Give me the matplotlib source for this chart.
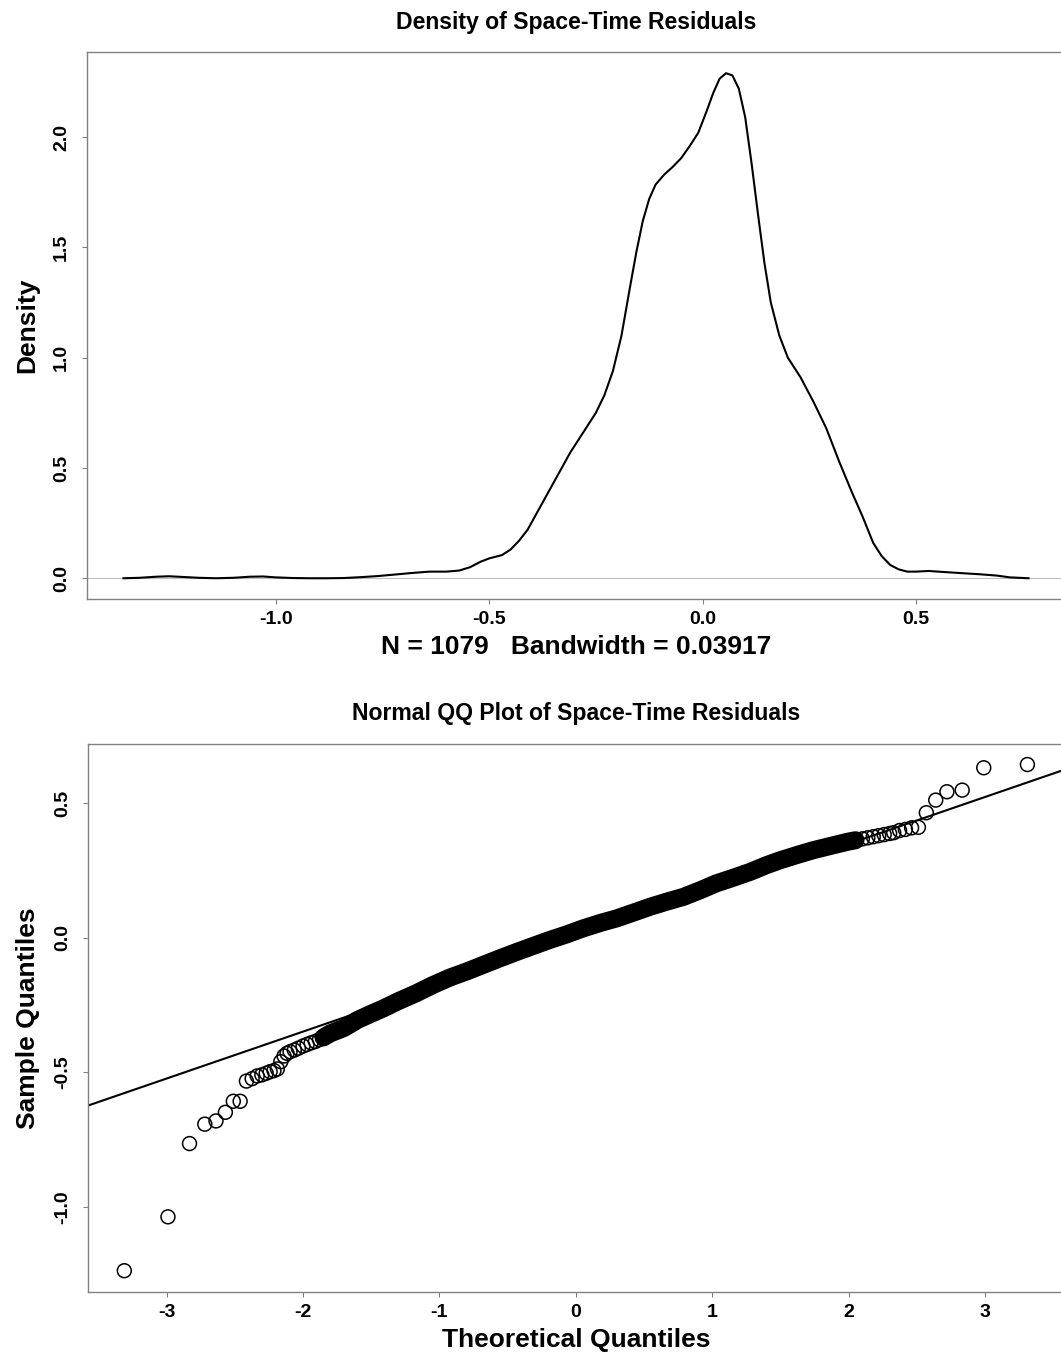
import matplotlib
matplotlib.use('Agg')
import matplotlib.pyplot as plt

plt.rcParams['font.family'] = ['Liberation Sans', 'DejaVu Sans']
plt.rcParams['font.weight'] = 'bold'
plt.rcParams['axes.unicode_minus'] = False

# density of residuals
dens_x = [-1.357, -1.32, -1.28, -1.25, -1.22, -1.18, -1.14, -1.10, -1.06, -1.03, -1.00, -0.96,
          -0.92, -0.88, -0.84, -0.80, -0.76, -0.72, -0.68, -0.64, -0.60, -0.57, -0.545, -0.52,
          -0.50, -0.47, -0.45, -0.43, -0.41, -0.39, -0.37, -0.35, -0.33, -0.31, -0.29, -0.27,
          -0.25, -0.23, -0.21, -0.19, -0.17, -0.155, -0.14, -0.125, -0.11, -0.09, -0.07, -0.05,
          -0.03, -0.01, 0.01, 0.025, 0.04, 0.055, 0.07, 0.085, 0.10, 0.115, 0.13, 0.145, 0.16,
          0.18, 0.20, 0.23, 0.26, 0.29, 0.32, 0.35, 0.375, 0.40, 0.42, 0.44, 0.46, 0.48, 0.50,
          0.53, 0.56, 0.60, 0.65, 0.69, 0.72, 0.764]
dens_y = [0.000, 0.002, 0.007, 0.009, 0.006, 0.002, 0.000, 0.002, 0.007, 0.008, 0.004, 0.001,
          0.000, 0.000, 0.001, 0.005, 0.010, 0.017, 0.024, 0.030, 0.030, 0.035, 0.050, 0.075,
          0.090, 0.105, 0.130, 0.170, 0.22, 0.29, 0.36, 0.43, 0.50, 0.57, 0.63, 0.69,
          0.75, 0.83, 0.94, 1.10, 1.32, 1.48, 1.62, 1.72, 1.785, 1.83, 1.865, 1.905,
          1.96, 2.02, 2.12, 2.20, 2.265, 2.29, 2.28, 2.22, 2.09, 1.88, 1.65, 1.43, 1.25,
          1.10, 1.00, 0.91, 0.80, 0.68, 0.53, 0.39, 0.28, 0.16, 0.10, 0.06, 0.04, 0.030, 0.030,
          0.033, 0.029, 0.024, 0.018, 0.012, 0.004, 0.000]
n_obs = 1079
bandwidth = 0.03917

# normal QQ: lower tail points
low_q = [-3.31, -2.99, -2.832, -2.72, -2.638, -2.569, -2.511, -2.461, -2.415, -2.373, -2.336,
         -2.302, -2.270, -2.241, -2.213, -2.188, -2.163, -2.139, -2.117, -2.095, -2.064, -2.034]
low_s = [-1.236, -1.036, -0.764, -0.692, -0.680, -0.648, -0.607, -0.607, -0.532, -0.523, -0.513,
         -0.509, -0.503, -0.497, -0.493, -0.487, -0.460, -0.439, -0.429, -0.423, -0.417, -0.410]
# body of the QQ cloud
body_q = [-2.00, -1.97, -1.94, -1.91, -1.88, -1.85, -1.80, -1.75, -1.70, -1.65, -1.60, -1.50,
          -1.41, -1.30, -1.17, -1.05, -0.92, -0.80, -0.68, -0.55, -0.43, -0.30, -0.19, -0.07,
          0.055, 0.18, 0.30, 0.42, 0.544, 0.66, 0.79, 0.91, 1.03, 1.15, 1.28, 1.40, 1.50, 1.62,
          1.74, 1.86, 1.99, 2.05, 2.10, 2.14, 2.18, 2.22, 2.26, 2.30, 2.33]
body_s = [-0.402, -0.396, -0.390, -0.385, -0.378, -0.370, -0.355, -0.345, -0.335, -0.320, -0.305,
          -0.282, -0.262, -0.235, -0.206, -0.176, -0.147, -0.125, -0.101, -0.075, -0.052, -0.028,
          -0.008, 0.012, 0.035, 0.055, 0.072, 0.093, 0.115, 0.133, 0.152, 0.176, 0.202, 0.222,
          0.245, 0.270, 0.288, 0.307, 0.325, 0.340, 0.356, 0.362, 0.367, 0.371, 0.375, 0.379,
          0.383, 0.387, 0.390]
# upper tail points
high_q = [2.373, 2.415, 2.461, 2.511, 2.569, 2.638, 2.72, 2.832, 2.99, 3.31]
high_s = [0.398, 0.402, 0.408, 0.410, 0.464, 0.511, 0.542, 0.548, 0.631, 0.643]
# qqline
line_int = 0.0
line_slope = 0.1742

grey = '#808080'
tick_fs = 14
lab_fs = 19
title_fs = 16.6

fig = plt.figure(figsize=(10.61, 13.61), dpi=100)

def style(ax):
    for sp in ax.spines.values():
        sp.set_color(grey)
        sp.set_linewidth(1.0)
    ax.tick_params(axis='both', colors=grey, labelcolor='black', length=3.6, width=0.75,
                   labelsize=tick_fs)
    ax.tick_params(axis='x', pad=5.3)
    ax.tick_params(axis='y', pad=8.5, labelrotation=90)
    for t in ax.get_yticklabels():
        t.set_verticalalignment('center')

# top: density
ax1 = fig.add_axes([0.082, 0.5599, 1.0032 - 0.082, 0.9616 - 0.5599])
ax1.axhline(0, color='#bebebe', lw=0.8)
ax1.plot(dens_x, dens_y, color='black', lw=1.5)
ax1.set_xlim(-1.4425, 0.848)
ax1.set_ylim(-0.094, 2.385)
ax1.set_xticks([-1.0, -0.5, 0.0, 0.5])
ax1.set_yticks([0.0, 0.5, 1.0, 1.5, 2.0])
ax1.set_xticklabels(['-1.0', '-0.5', '0.0', '0.5'])
ax1.set_yticklabels(['0.0', '0.5', '1.0', '1.5', '2.0'])
style(ax1)
ax1.set_xlabel('N = %d   Bandwidth = %s' % (n_obs, bandwidth), fontsize=lab_fs,
               fontweight='bold', labelpad=5)
ax1.set_ylabel('Density', fontsize=lab_fs, fontweight='bold', labelpad=10)
ax1.set_title('Density of Space-Time Residuals', fontsize=title_fs, fontweight='bold', pad=17)

# bottom: normal QQ
ax2 = fig.add_axes([0.0827, 0.0507, 1.0028 - 0.0827, 0.4533 - 0.0507])
xl = (-3.578, 3.578)
ax2.plot(xl, [line_int + line_slope * v for v in xl], color='black', lw=1.5)
band_q = [q for q in body_q if -1.86 <= q <= 2.06]
band_s = [s for q, s in zip(body_q, body_s) if -1.86 <= q <= 2.06]
ax2.plot(band_q, band_s, color='black', lw=13, solid_capstyle='round')
all_q = low_q + body_q + high_q
all_s = low_s + body_s + high_s
ax2.scatter(all_q, all_s, s=100, facecolors='none', edgecolors='black', linewidths=1.1, zorder=3)
ax2.set_xlim(*xl)
ax2.set_ylim(-1.315, 0.719)
ax2.set_xticks([-3, -2, -1, 0, 1, 2, 3])
ax2.set_xticklabels(['-3', '-2', '-1', '0', '1', '2', '3'])
ax2.set_yticks([-1.0, -0.5, 0.0, 0.5])
ax2.set_yticklabels(['-1.0', '-0.5', '0.0', '0.5'])
style(ax2)
ax2.set_xlabel('Theoretical Quantiles', fontsize=lab_fs, fontweight='bold', labelpad=5)
ax2.set_ylabel('Sample Quantiles', fontsize=lab_fs, fontweight='bold', labelpad=10)
ax2.set_title('Normal QQ Plot of Space-Time Residuals', fontsize=title_fs, fontweight='bold',
              pad=17)

fig.savefig('out.png', dpi=100)
